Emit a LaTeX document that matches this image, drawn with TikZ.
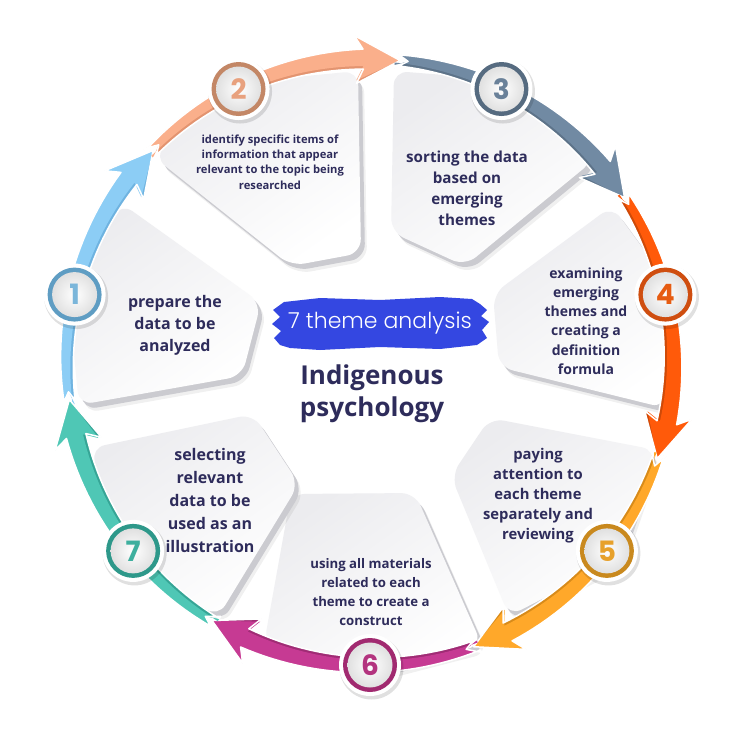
\documentclass[tikz,border=0pt]{standalone}
\usepackage{fontspec}
\setmainfont{Open Sans}
\newfontfamily\numfont{Poppins}
\IfFontExistsTF{Poppins Light}{\newfontfamily\titlefont{Poppins Light}}{\newfontfamily\titlefont{Poppins}}
\definecolor{navy}{HTML}{2E2C5B}
\definecolor{cardtop}{HTML}{ECECEF}
\definecolor{cardrim}{HTML}{CBCBD0}
\definecolor{brush}{HTML}{3447E1}
\definecolor{c1}{HTML}{8CCDF5}\definecolor{d1}{HTML}{6FB3E0}\definecolor{r1}{HTML}{5F9DC3}\definecolor{n1}{HTML}{7BB6DA}
\definecolor{c2}{HTML}{FAAF8B}\definecolor{d2}{HTML}{E39470}\definecolor{r2}{HTML}{C38766}\definecolor{n2}{HTML}{E8A17E}
\definecolor{c3}{HTML}{718AA3}\definecolor{d3}{HTML}{5D7389}\definecolor{r3}{HTML}{566B80}\definecolor{n3}{HTML}{6A8199}
\definecolor{c4}{HTML}{FF5A0A}\definecolor{d4}{HTML}{CF4A08}\definecolor{r4}{HTML}{CF4E10}\definecolor{n4}{HTML}{E65C12}
\definecolor{c5}{HTML}{FFA82A}\definecolor{d5}{HTML}{D88B1A}\definecolor{r5}{HTML}{C9891E}\definecolor{n5}{HTML}{E7A12C}
\definecolor{c6}{HTML}{C63A93}\definecolor{d6}{HTML}{A02C75}\definecolor{r6}{HTML}{A12A70}\definecolor{n6}{HTML}{B3347F}
\definecolor{c7}{HTML}{4FC7B5}\definecolor{d7}{HTML}{36A596}\definecolor{r7}{HTML}{2E988A}\definecolor{n7}{HTML}{3EAF9E}
\newcommand\fs[2]{\bfseries\fontsize{#1}{#2}\selectfont}
\newcommand\drawcard[1]{%
  \fill[cardshadow,xshift=6pt,yshift=-8pt] #1 -- cycle;
  \fill[cardrim,xshift=4pt,yshift=-5pt] #1 -- cycle;
  \shade[cardface] #1 -- cycle;}
\begin{document}
\begin{tikzpicture}[x=1pt,y=-1pt,
  cardshadow/.style={fill=black, opacity=0.06, rounded corners=14pt},
  cardrim/.style={fill=cardrim, rounded corners=14pt},
  cardface/.style={rounded corners=14pt, top color=cardtop, bottom color=white, shading angle=35},
  cardtext/.style={text=navy, align=center, inner sep=0pt},
  numtext/.style={font=\numfont\bfseries\fontsize{28}{28}\selectfont, inner sep=0pt},
]
\useasboundingbox (0,0) rectangle (743,743);
\fill[white] (0,0) rectangle (743,743);

% ---- cards
\drawcard{(121,203) -- (261,303) -- (242,376) -- (79,405) -- (68,294)}
\drawcard{(223,84) -- (358,71) -- (361,253) -- (291,266) -- (154,157)}
\drawcard{(394,71) -- (507,80) -- (594,160) -- (465,266) -- (391,232)}
\drawcard{(612,206) -- (676,294) -- (665,408) -- (499,367) -- (493,294)}
\drawcard{(490,418) -- (656,450) -- (618,560) -- (509,616) -- (451,476)}
\drawcard{(291,494) -- (415,493) -- (482,645) -- (370,674) -- (264,644)}
\drawcard{(91,448) -- (253,414) -- (299,484) -- (218,617) -- (121,554)}

% ---- ring segments
\begin{scope}[shift={(370,362)}]
\foreach \k/\bc/\dc in {1/c1/d1,2/c2/d2,3/c3/d3,4/c4/d4,5/c5/d5,6/c6/d6,7/c7/d7}{
  \pgfmathsetmacro\ph{192.857+51.4286*(\k-1)}
  \pgfmathsetmacro\Ta{\ph-21}
  \pgfmathsetmacro\Tp{\ph+31.43}
  \pgfmathsetmacro\Hb{\Tp-7}
  \pgfmathsetmacro\Bb{\Tp-8.5}
  \pgfmathsetmacro\Nt{\Ta+2.5}
  \pgfmathsetmacro\Sp{\Hb-\Ta}
  \fill[\dc] (\Ta:311) -- plot[domain=\Ta:\Hb, samples=30, variable=\t] (\t:{303+5.5+4.5*(\t-\Ta)/\Sp})
     -- (\Bb:327) -- (\Tp:303) -- (\Bb:279)
     -- plot[domain=\Hb:\Ta, samples=30, variable=\t] (\t:{303-5.5-4.5*(\t-\Ta)/\Sp})
     -- (\Ta:295) -- (\Nt:303) -- cycle;
  \fill[\bc] (\Ta:311) -- plot[domain=\Ta:\Hb, samples=30, variable=\t] (\t:{303+5.5+4.5*(\t-\Ta)/\Sp})
     -- (\Bb:327) -- (\Tp:303) -- (\Bb:282)
     -- plot[domain=\Hb:\Ta, samples=30, variable=\t] (\t:{303-2.5-4.5*(\t-\Ta)/\Sp})
     -- (\Ta:298) -- (\Nt:303) -- cycle;
  \draw[white, line width=1.5pt, line join=round] (\Ta:311) -- plot[domain=\Ta:\Hb, samples=30, variable=\t] (\t:{303+5.5+4.5*(\t-\Ta)/\Sp})
     -- (\Bb:327) -- (\Tp:303) -- (\Bb:279)
     -- plot[domain=\Hb:\Ta, samples=30, variable=\t] (\t:{303-5.5-4.5*(\t-\Ta)/\Sp})
     -- (\Ta:295) -- (\Nt:303) -- cycle;
}
% ---- badges
\foreach \k/\rc/\nc in {1/r1/n1,2/r2/n2,3/r3/n3,4/r4/n4,5/r5/n5,6/r6/n6,7/r7/n7}{
  \pgfmathsetmacro\ph{192.857+51.4286*(\k-1)}
  \fill[black, opacity=0.12] (\ph:303) ++(1.5,2.5) circle (32);
  \fill[white] (\ph:303) circle (31);
  \fill[\rc] (\ph:303) circle (27);
  \shade[inner color=white, outer color=black!12] (\ph:303) circle (22.5);
  \node[numtext, text=\nc] (b\k) at (\ph:303) {\k};
}
\end{scope}

% ---- card texts
\node[cardtext, font=\fs{16}{22}] (t1) at (175,325) {prepare the\\data to be\\analyzed};
\node[cardtext, font=\fs{11.2}{15.2}] (t2) at (270,162) {identify specific items of\\information that appear\\relevant to the topic being\\researched};
\node[cardtext, font=\fs{15.2}{21}] (t3) at (467,188.5) {sorting the data\\based on\\emerging\\themes};
\node[cardtext, font=\fs{14}{19.2}] (t4) at (586,321) {examining\\emerging\\themes and\\creating a\\definition\\formula};
\node[cardtext, font=\fs{14.8}{20}] (t5) at (538,496) {paying\\attention to\\each theme\\separately and\\reviewing};
\node[cardtext, font=\fs{13.2}{18.7}] (t6) at (371,592) {using all materials\\related to each\\theme to create a\\construct};
\node[cardtext, font=\fs{16}{22.8}] (t7) at (210,500.5) {selecting\\relevant\\data to be\\used as an\\illustration};

% ---- centre
\fill[brush] (284,302) -- (320,298) -- (380,300) -- (440,297) -- (472,299) -- (480,304) -- (487,310) -- (481,316)
  -- (489,322) -- (482,330) -- (487,338) -- (477,345) -- (440,349) -- (380,347) -- (320,350) -- (290,348)
  -- (280,345) -- (274,338) -- (281,331) -- (272,324) -- (280,317) -- (273,310) -- cycle;
\node[font=\titlefont\fontsize{22}{22}\selectfont, text=white, inner sep=0pt] (title) at (380,323) {7 theme analysis};
\node[cardtext, font=\fs{26}{32}] (topic) at (372,394) {Indigenous\\psychology};
\end{tikzpicture}
\end{document}
